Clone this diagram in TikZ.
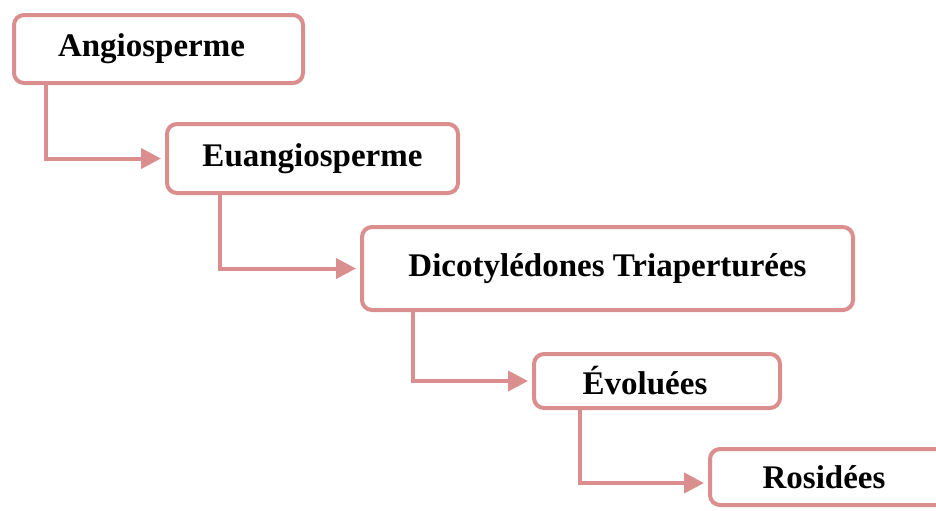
\documentclass[tikz,border=0pt]{standalone}
\usepackage{fontspec}
\setmainfont{Liberation Serif}
\usepackage{xcolor}
\usetikzlibrary{positioning, arrows.meta}
\definecolor{RosePink}{RGB}{219,142,142}
\tikzset{
  taxbox/.style={draw=RosePink, line width=2pt, rounded corners=5pt, fill=white,
    inner sep=2pt, font=\fontsize{16.5}{19}\selectfont\bfseries, align=center},
  flow/.style={-{Triangle[length=10pt, width=10pt]}, line width=2pt, RosePink, shorten >=2pt},
}
\begin{document}
\begin{tikzpicture}[x=0.5pt, y=-0.5pt]
  \clip (0,0) rectangle (936,510);
  % taxonomic levels
  \node[taxbox, minimum width=144.5pt, minimum height=34pt] (angio) at (158.5,49) {\hspace*{-7pt}Angiosperme};
  \node[taxbox, minimum width=145.5pt, minimum height=34.5pt] (euang) at (312.5,158.5) {Euangiosperme};
  \node[taxbox, minimum width=245.5pt, minimum height=41.5pt] (dicot) at (607.5,268.5) {Dicotylédones Triaperturées};
  \node[taxbox, minimum width=123pt, minimum height=27pt] (evol) at (657,381) {\hspace*{-12pt}Évoluées};
  \node[taxbox, minimum width=120pt, minimum height=28pt] (rosid) at (830,477) {\hspace*{-6pt}Rosidées};
  % elbow arrows
  \draw[flow] ([xshift=17pt]angio.south west) |- (euang.west);
  \draw[flow] ([xshift=27.5pt]euang.south west) |- (dicot.west);
  \draw[flow] ([xshift=26.5pt]dicot.south west) |- (evol.west);
  \draw[flow] ([xshift=24pt]evol.south west) |- ([yshift=-3pt]rosid.west);
\end{tikzpicture}
\end{document}
